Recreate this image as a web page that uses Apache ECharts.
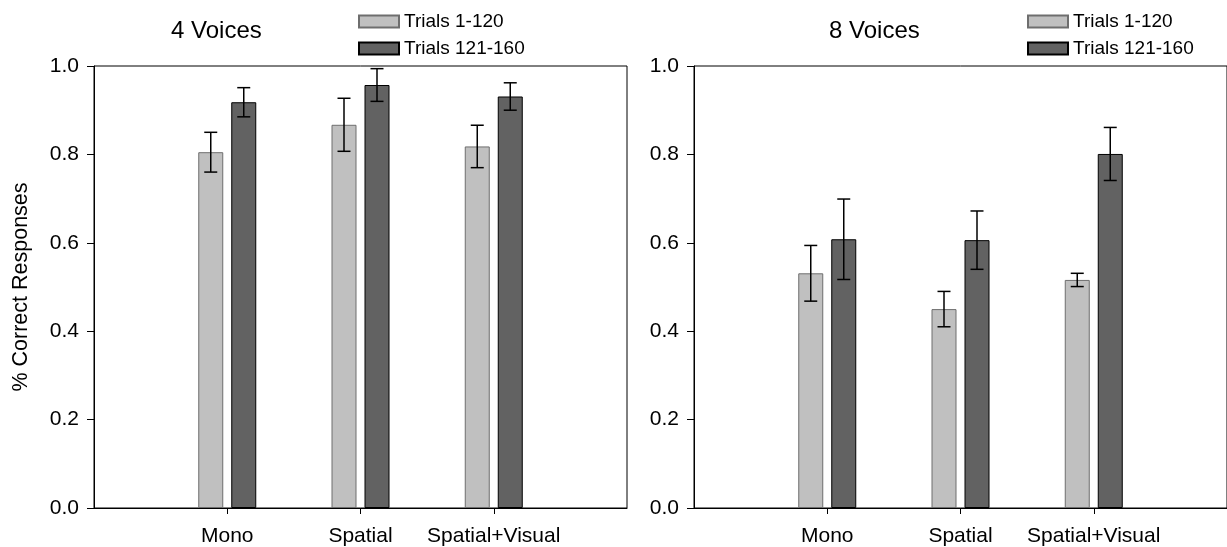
<!DOCTYPE html>
<html>
<head>
<meta charset="utf-8">
<script src="https://cdn.jsdelivr.net/npm/echarts@6/dist/echarts.min.js"></script>
<style>
  html, body { margin: 0; padding: 0; background: #fff; }
  #main { width: 1227px; height: 547px; }
</style>
</head>
<body>
<div id="main"></div>
<script>
// values
var categories = ['Mono', 'Spatial', 'Spatial+Visual'];
var seriesNames = ['Trials 1-120', 'Trials 121-160'];
var panelTitles = ['4 Voices', '8 Voices'];

var early4 = [0.805, 0.867, 0.818];
var early4Err = [0.045, 0.060, 0.048];
var late4 = [0.918, 0.957, 0.931];
var late4Err = [0.033, 0.037, 0.031];

var early8 = [0.531, 0.450, 0.516];
var early8Err = [0.063, 0.040, 0.015];
var late8 = [0.608, 0.606, 0.801];
var late8Err = [0.091, 0.066, 0.060];

var FONT = 'Liberation Sans, Arial, sans-serif';
var LIGHT = '#c0c0c0', DARK = '#626262';
var BAR_W = 25, OFFSET = 16.5;

// empty slots at both ends so the groups sit at 1, 2, 3 of 0..4
var axisCats = [' ', ...categories, '  '];
var inner = function (idx) { return idx > 0 && idx < axisCats.length - 1; };

function padded(arr) {
  return ['-', ...arr, '-'];
}

function errData(mean, err) {
  return mean.map(function (m, i) { return [i + 1, m, err[i]]; });
}

function errRender(offset) {
  return function (params, api) {
    var c = api.value(0), m = api.value(1), e = api.value(2);
    var hi = api.coord([c, m + e]);
    var lo = api.coord([c, m - e]);
    var x = hi[0] + offset;
    var st = { stroke: '#000', lineWidth: 1.5 };
    return {
      type: 'group',
      children: [
        { type: 'line', shape: { x1: x, y1: hi[1], x2: x, y2: lo[1] }, style: st },
        { type: 'line', shape: { x1: x - 6.5, y1: hi[1], x2: x + 6.5, y2: hi[1] }, style: st },
        { type: 'line', shape: { x1: x - 6.5, y1: lo[1], x2: x + 6.5, y2: lo[1] }, style: st }
      ]
    };
  };
}

function xAxisFor(gridIndex) {
  return {
    type: 'category', gridIndex: gridIndex, data: axisCats, boundaryGap: false,
    axisLine: { lineStyle: { color: '#000', width: 1 } },
    axisTick: { length: 6, interval: function (i) { return inner(i); }, lineStyle: { color: '#000' } },
    axisLabel: { interval: function (i) { return inner(i); }, margin: 18, color: '#000', fontSize: 21, fontFamily: FONT },
    splitLine: { show: false }
  };
}

function yAxisFor(gridIndex, name) {
  return {
    type: 'value', gridIndex: gridIndex, min: 0, max: 1, interval: 0.2,
    name: name, nameLocation: 'middle', nameGap: 62,
    nameTextStyle: { color: '#000', fontSize: 21.5, fontFamily: FONT },
    axisLine: { show: true, lineStyle: { color: '#000', width: 1 } },
    axisTick: { show: true, length: 7, lineStyle: { color: '#000' } },
    axisLabel: { margin: 15, color: '#000', fontSize: 21, fontFamily: FONT, formatter: function (v) { return v.toFixed(1); } },
    splitLine: { show: false }
  };
}

function barSeries(name, gridIndex, values, color, border) {
  return {
    name: name, type: 'bar', xAxisIndex: gridIndex, yAxisIndex: gridIndex,
    data: padded(values), barWidth: BAR_W, barGap: '32%',
    itemStyle: { color: color, borderColor: border, borderWidth: 1 },
    z: 2
  };
}

function errSeries(gridIndex, mean, err, offset) {
  return {
    type: 'custom', xAxisIndex: gridIndex, yAxisIndex: gridIndex,
    data: errData(mean, err), renderItem: errRender(offset),
    encode: { x: 0, y: 1 }, z: 5, silent: true
  };
}

function legendAt(left) {
  return {
    left: left, top: 12, orient: 'vertical', icon: 'rect', padding: 0,
    itemWidth: 40, itemHeight: 12, itemGap: 8, data: seriesNames,
    selectedMode: false,
    textStyle: { color: '#000', fontSize: 19, fontFamily: FONT }
  };
}

var chart = echarts.init(document.getElementById('main'));
chart.setOption({
  animation: false,
  backgroundColor: '#fff',
  title: [
    { text: panelTitles[0], left: 166, top: 14, textStyle: { fontSize: 24, fontWeight: 'normal', color: '#000', fontFamily: FONT } },
    { text: panelTitles[1], left: 824, top: 14, textStyle: { fontSize: 24, fontWeight: 'normal', color: '#000', fontFamily: FONT } }
  ],
  legend: [legendAt(358), legendAt(1027)],
  grid: [
    { left: 94, top: 66, width: 533, height: 442, show: true, borderColor: '#000', borderWidth: 1 },
    { left: 694, top: 66, width: 540, height: 442, show: true, borderColor: '#000', borderWidth: 1 }
  ],
  xAxis: [xAxisFor(0), xAxisFor(1)],
  yAxis: [yAxisFor(0, '% Correct Responses'), yAxisFor(1, '')],
  series: [
    barSeries(seriesNames[0], 0, early4, LIGHT, '#6e6e6e'),
    barSeries(seriesNames[1], 0, late4, DARK, '#000'),
    barSeries(seriesNames[0], 1, early8, LIGHT, '#6e6e6e'),
    barSeries(seriesNames[1], 1, late8, DARK, '#000'),
    errSeries(0, early4, early4Err, -OFFSET),
    errSeries(0, late4, late4Err, OFFSET),
    errSeries(1, early8, early8Err, -OFFSET),
    errSeries(1, late8, late8Err, OFFSET)
  ]
});
</script>
</body>
</html>
